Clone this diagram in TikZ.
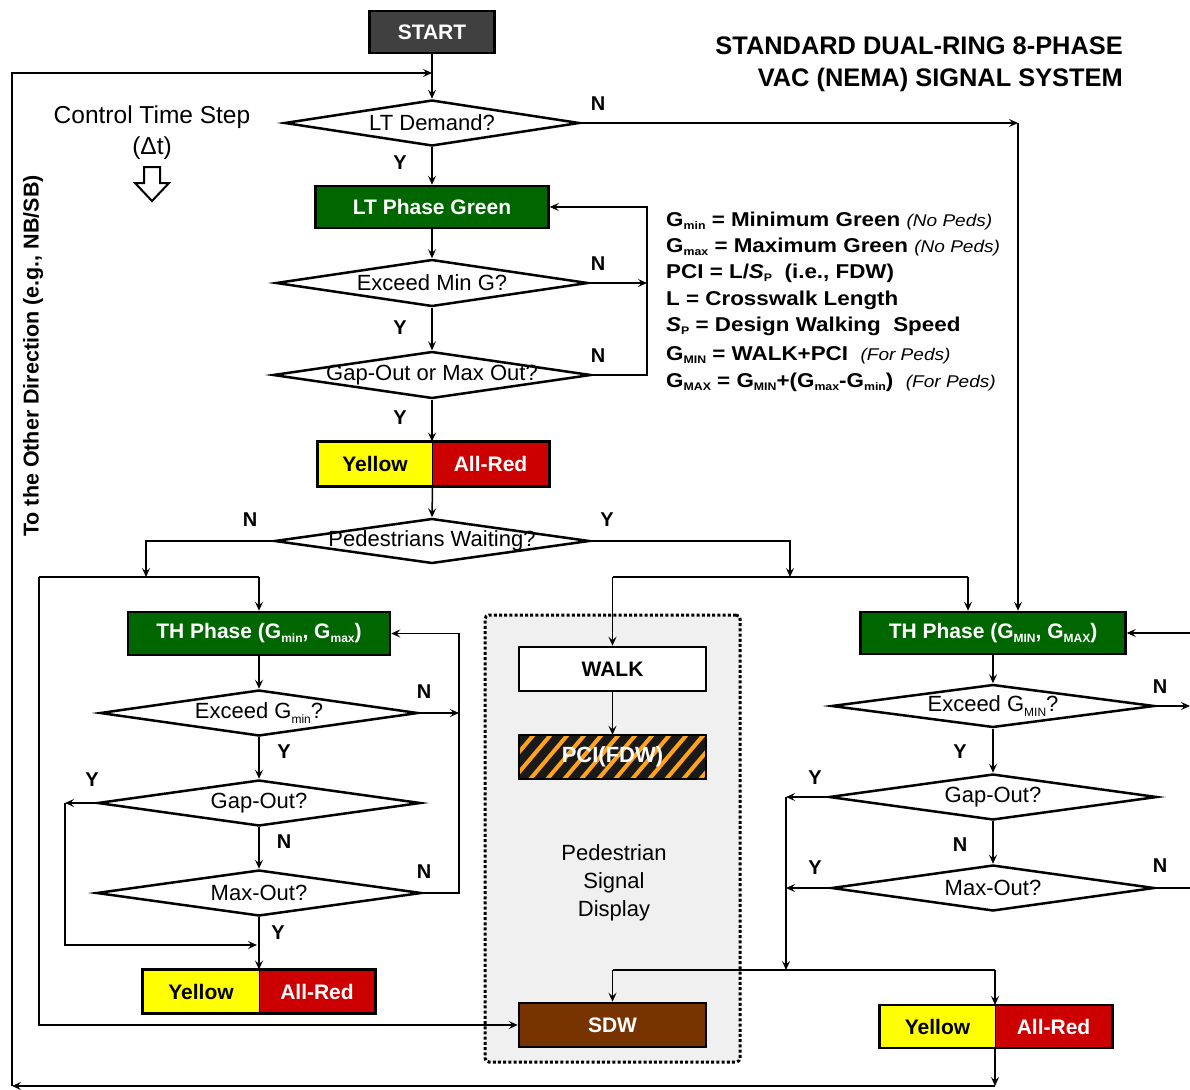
\documentclass[tikz,border=0pt]{standalone}
\usepackage{fontspec}
\setmainfont{Liberation Sans}
\usetikzlibrary{shapes.geometric,arrows.meta}

\definecolor{phasegreen}{HTML}{006600}
\definecolor{sigyellow}{HTML}{FFFF00}
\definecolor{sigred}{HTML}{CC0000}
\definecolor{sdwbrown}{HTML}{773300}
\definecolor{startgray}{HTML}{404040}
\definecolor{panelgray}{HTML}{F0F0F0}
\definecolor{fdwstripe}{HTML}{FFA31A}
\definecolor{fdwblack}{HTML}{1A1A1A}

% lowered small text for subscripts (G_min, S_P, ...)
\newcommand\lo[2][12]{\raisebox{-0.35ex}{\fontsize{#1}{#1}\selectfont #2}}
\newcommand\pedsnote[1]{{\mdseries\itshape\fontsize{17}{20}\selectfont #1}}
% widened legend lines
\newcommand\wideline[1]{\scalebox{1.12}[1]{#1}}

\tikzset{
  wire/.style={line width=1.5pt},
  arr/.style={wire, -{Stealth[length=9pt,width=8pt,inset=3.5pt]}},
  sigbox/.style={rectangle, draw, line width=2.5pt, inner sep=0pt,
    font=\fontsize{21}{25}\selectfont\bfseries, text=white},
  lampbox/.style={rectangle, draw, line width=1pt, inner sep=0pt,
    font=\fontsize{21}{25}\selectfont\bfseries},
  decision/.style={diamond, draw, line width=2.5pt, fill=white, inner sep=0pt},
  dectext/.style={font=\fontsize{22}{26}\selectfont, inner sep=0pt},
  yn/.style={font=\fontsize{20}{24}\selectfont\bfseries, inner sep=0pt},
  legend/.style={font=\fontsize{20}{24}\selectfont\bfseries, anchor=base west, inner sep=0pt},
}

\begin{document}
\begin{tikzpicture}[x=1pt,y=-1pt]
\useasboundingbox (0,0) rectangle (1190,1089);

% ---------- pedestrian signal display panel ----------
\node[draw, line width=3pt, dash pattern=on 3pt off 2.2pt, fill=panelgray,
  rounded corners=4pt, minimum width=255pt, minimum height=447pt, inner sep=0pt]
  (panel) at (612.5,838.5) {};
\node[font=\fontsize{22}{28}\selectfont, align=center, inner sep=0pt]
  (pedtxt) at (614,883) {Pedestrian\\Signal\\Display};

% ---------- headings ----------
\node[sigbox, fill=startgray, minimum width=125pt, minimum height=42pt] (start) at (432,32) {START};
\node[font=\fontsize{25.4}{30}\selectfont\bfseries, anchor=base east, inner sep=0pt]
  (title1) at (1123,55) {STANDARD DUAL-RING 8-PHASE};
\node[font=\fontsize{25.4}{30}\selectfont\bfseries, anchor=base east, inner sep=0pt]
  (title2) at (1123,87) {VAC (NEMA) SIGNAL SYSTEM};

\node[font=\fontsize{24.5}{28}\selectfont, anchor=base, inner sep=0pt] (cts1) at (152,124) {Control Time Step};
\node[font=\fontsize{24.5}{28}\selectfont, anchor=base, inner sep=0pt] (cts2) at (152,154) {(Δt)};
\draw[line width=2pt, fill=white, line join=miter]
  (144,167) -- (160,167) -- (160,183) -- (169,183) -- (152,201) -- (135,183) -- (144,183) -- cycle;

\node[rotate=90, font=\fontsize{21.5}{24}\selectfont\bfseries, inner sep=0pt]
  (other) at (33,356) {To the Other Direction (e.g., NB/SB)};

% ---------- legend ----------
\node[legend] (leg1) at (666,226) {\wideline{G\lo[11]{min} = Minimum Green \pedsnote{(No Peds)}}};
\node[legend] (leg2) at (666,252) {\wideline{G\lo[11]{max} = Maximum Green \pedsnote{(No Peds)}}};
\node[legend] (leg3) at (666,278) {\wideline{PCI = L/\textit{S}\lo[11]{P}\ \ (i.e., FDW)}};
\node[legend] (leg4) at (666,305) {\wideline{L = Crosswalk Length}};
\node[legend] (leg5) at (666,331) {\wideline{\textit{S}\lo[11]{P} = Design Walking\ \ Speed}};
\node[legend] (leg6) at (666,360) {\wideline{G\lo[11]{MIN} = WALK+PCI\ \ \pedsnote{(For Peds)}}};
\node[legend] (leg7) at (666,387) {\wideline{G\lo[11]{MAX} = G\lo[11]{MIN}+(G\lo[11]{max}-G\lo[11]{min})\ \ \pedsnote{(For Peds)}}};

% ---------- left-turn phase ----------
\node[decision, minimum width=295pt, minimum height=46pt,
  label={[dectext]center:LT Demand?}] (d1) at (432,123) {};
\node[sigbox, fill=phasegreen, minimum width=233pt, minimum height=42pt] (lt) at (432,207) {LT Phase Green};
\node[decision, minimum width=312pt, minimum height=47pt,
  label={[dectext]center:Exceed Min G?}] (d2) at (432,283) {};
\node[decision, minimum width=318pt, minimum height=47pt,
  label={[dectext]center:Gap-Out or Max Out?}] (d3) at (432,375) {};
\node[lampbox, fill=sigyellow, minimum width=114pt, minimum height=44pt] (ya) at (375,464) {Yellow};
\node[lampbox, fill=sigred, text=white, minimum width=117pt, minimum height=44pt] (ra) at (490.5,464) {All-Red};
\draw[line width=2.5pt] (ya.north west) rectangle (ra.south east);
\node[decision, minimum width=315pt, minimum height=45pt,
  label={[dectext]center:Pedestrians Waiting?}] (d4) at (432,541) {};

% ---------- through phase, no pedestrians ----------
\node[sigbox, fill=phasegreen, minimum width=262pt, minimum height=43pt] (thl) at (259,633.5)
  {TH Phase (G\lo{min}, G\lo{max})};
\node[decision, minimum width=318pt, minimum height=46pt,
  label={[dectext]center:{Exceed G\lo{min}?}}] (dl1) at (259,713) {};
\node[decision, minimum width=323pt, minimum height=46pt,
  label={[dectext]center:Gap-Out?}] (dl2) at (259,803) {};
\node[decision, minimum width=325pt, minimum height=46pt,
  label={[dectext]center:Max-Out?}] (dl3) at (259,893) {};
\node[lampbox, fill=sigyellow, minimum width=116pt, minimum height=43pt] (yl) at (201,991.5) {Yellow};
\node[lampbox, fill=sigred, text=white, minimum width=116pt, minimum height=43pt] (rl) at (317,991.5) {All-Red};
\draw[line width=2.5pt] (yl.north west) rectangle (rl.south east);

% ---------- pedestrian signal heads ----------
\node[sigbox, fill=white, text=black, minimum width=187pt, minimum height=44pt] (walk) at (612.5,669) {WALK};
\node[rectangle, fill=fdwblack, minimum width=187pt, minimum height=44pt, inner sep=0pt] (pci) at (612.5,757) {};
\begin{scope}
  \clip (pci.south west) rectangle (pci.north east);
  \foreach \s in {0,...,15}
    \draw[fdwstripe, line width=4pt] ({470+17*\s},790) -- ({525+17*\s},725);
\end{scope}
\node[font=\fontsize{22}{26}\selectfont\bfseries, text=white, inner sep=0pt] (pcitxt) at (pci) {PCI(FDW)};
\draw[line width=2.5pt] (pci.south west) rectangle (pci.north east);
\node[sigbox, fill=sdwbrown, minimum width=187pt, minimum height=44pt] (sdw) at (612.5,1025) {SDW};

% ---------- through phase, pedestrians served ----------
\node[sigbox, fill=phasegreen, minimum width=265pt, minimum height=42pt] (thr) at (993,633)
  {TH Phase (G\lo{MIN}, G\lo{MAX})};
\node[decision, minimum width=323pt, minimum height=43pt,
  label={[dectext]center:{Exceed G\lo{MIN}?}}] (dr1) at (993,706) {};
\node[decision, minimum width=328pt, minimum height=46pt,
  label={[dectext]center:Gap-Out?}] (dr2) at (993,797) {};
\node[decision, minimum width=323pt, minimum height=46pt,
  label={[dectext]center:Max-Out?}] (dr3) at (993,888) {};
\node[lampbox, fill=sigyellow, minimum width=115pt, minimum height=42pt] (yr) at (937.5,1026.5) {Yellow};
\node[lampbox, fill=sigred, text=white, minimum width=117pt, minimum height=42pt] (rr) at (1053.5,1026.5) {All-Red};
\draw[line width=2.5pt] (yr.north west) rectangle (rr.south east);

% ---------- junction points ----------
\coordinate (topj) at (432,73);
\coordinate (tl) at (12,73);
\coordinate (bl) at (12,1086);
\coordinate (br) at (995,1086);
\coordinate (ltn) at (1018,123);
\coordinate (ltloop) at (647,375);
\coordinate (nj) at (146,577);
\coordinate (lj) at (39,577);
\coordinate (lj2) at (259,577);
\coordinate (yj) at (790,577);
\coordinate (wj) at (612.5,577);
\coordinate (rj) at (968,577);
\coordinate (thloop) at (459,893);
\coordinate (gy1) at (65,803);
\coordinate (gy2) at (65,945);
\coordinate (gy3) at (257,945);
\coordinate (ry1) at (786,797);
\coordinate (ry2) at (786,888);
\coordinate (ry3) at (786,970);
\coordinate (sj1) at (612.5,970);
\coordinate (sj2) at (995,970);
\coordinate (ein) at (1190,633);
\coordinate (eout1) at (1190,706);
\coordinate (eout2) at (1190,888);

% ---------- connectors: left-turn phase ----------
\draw[arr] (start.south) -- (d1.north);
\draw[arr] (d1.south) -- (lt.north);
\draw[arr] (d1.east) -- (ltn);
\draw[arr] (ltn) -- (ltn |- thr.north);
\draw[arr] (lt.south) -- (d2.north);
\draw[arr] (d2.east) -- (d2.east -| ltloop);
\draw[arr] (d2.south) -- (d3.north);
\draw[arr] (d3.east) -- (ltloop) |- (lt.east);
\draw[arr] (d3.south) -- (d3.south |- ya.north);
\draw[arr] (ya.south east) -- (d4.north);

% ---------- connectors: pedestrian check ----------
\draw[arr] (d4.west) -| (nj);
\draw[wire] (lj) -- (lj2);
\draw[arr] (lj2) -- (thl.north);
\draw[arr] (lj) |- (sdw.west);
\draw[arr] (d4.east) -| (yj);
\draw[wire] (wj) -- (rj);
\draw[arr] (wj) -- (walk.north);
\draw[arr] (rj) -- (rj |- thr.north);

% ---------- connectors: left through phase ----------
\draw[arr] (thl.south) -- (dl1.north);
\draw[arr] (dl1.east) -- (dl1.east -| thloop);
\draw[arr] (dl1.south) -- (dl2.north);
\draw[arr] (dl2.west) -- (gy1);
\draw[arr] (gy1) -- (gy2) -- (gy3);
\draw[arr] (dl2.south) -- (dl3.north);
\draw[arr] (dl3.east) -- (thloop) |- (thl.east);
\draw[arr] (dl3.south) -- (dl3.south |- yl.north);

% ---------- connectors: pedestrian heads ----------
\draw[arr] (walk.south) -- (pci.north);
\draw[wire] (sj1) -- (sj2);
\draw[arr] (sj1) -- (sdw.north);
\draw[arr] (sj2) -- (sj2 |- yr.north);

% ---------- connectors: right through phase ----------
\draw[arr] (ein) -- (thr.east);
\draw[arr] (thr.south) -- (dr1.north);
\draw[arr] (dr1.east) -- (eout1);
\draw[arr] (dr1.south) -- (dr2.north);
\draw[arr] (dr2.west) -- (ry1);
\draw[arr] (ry1) -- (ry3);
\draw[arr] (dr2.south) -- (dr3.north);
\draw[arr] (dr3.west) -- (ry2);
\draw[wire] (dr3.east) -- (eout2);

% ---------- return to the start of the cycle ----------
\draw[arr] (sj2 |- yr.south) -- (br);
\draw[arr] (br) -- (bl);
\draw[arr] (bl) -- (tl) -- (topj);

% ---------- Y / N labels ----------
\node[yn] (n1) at (598,104) {N};
\node[yn] (y1) at (400,163) {Y};
\node[yn] (n2) at (598,264) {N};
\node[yn] (y2) at (400,328) {Y};
\node[yn] (n3) at (598,356) {N};
\node[yn] (y3) at (400,418) {Y};
\node[yn] (n4) at (250,520) {N};
\node[yn] (y4) at (607,520) {Y};
\node[yn] (n5) at (424,692) {N};
\node[yn] (y5) at (284,752) {Y};
\node[yn] (y6) at (92,780) {Y};
\node[yn] (n6) at (284,842) {N};
\node[yn] (n7) at (424,872) {N};
\node[yn] (y7) at (278,933) {Y};
\node[yn] (n8) at (1160,687) {N};
\node[yn] (y8) at (960,752) {Y};
\node[yn] (y9) at (815,778) {Y};
\node[yn] (n9) at (960,845) {N};
\node[yn] (y10) at (815,868) {Y};
\node[yn] (n10) at (1160,866) {N};
\end{tikzpicture}
\end{document}
